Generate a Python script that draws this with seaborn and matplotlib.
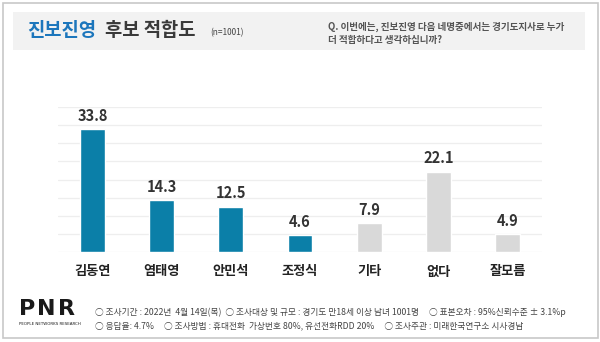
import matplotlib
matplotlib.use("Agg")
import matplotlib.pyplot as plt
import seaborn as sns
import pandas as pd
from matplotlib.patches import Rectangle

categories = ["김동연", "염태영", "안민석", "조정식", "기타", "없다", "잘모름"]
values = [33.8, 14.3, 12.5, 4.6, 7.9, 22.1, 4.9]
groups = ["candidate", "candidate", "candidate", "candidate", "other", "other", "other"]
value_labels = ["33.8", "14.3", "12.5", "4.6", "7.9", "22.1", "4.9"]

title_blue = "진보진영"
title_rest = "후보 적합도"
title_n = "(n=1001)"
question_lines = ["Q. 이번에는, 진보진영 다음 네명중에서는 경기도지사로 누가",
                  "더 적합하다고 생각하십니까?"]
footer_lines = ["○ 조사기간 : 2022년  4월 14일(목)  ○ 조사대상 및 규모 : 경기도 만18세 이상 남녀 1001명     ○ 표본오차 : 95%신뢰수준 ± 3.1%p",
                "○ 응답율: 4.7%     ○ 조사방법 : 휴대전화  가상번호 80%, 유선전화RDD 20%     ○ 조사주관 : 미래한국연구소 시사경남"]

BLUE = "#0B7FA8"
GREY = "#D9D9D9"

sns.set_theme(style="white")
plt.rcParams['font.family'] = ['Noto Sans CJK KR', 'DejaVu Sans']

df = pd.DataFrame({"cat": categories, "val": values, "grp": groups})

fig = plt.figure(figsize=(6, 3.42), dpi=100)
W, H = 600, 342

def fx(x):
    return x / W

def fy(y):
    return 1 - y / H

# outer frame
fig.patches.append(Rectangle((fx(3), fy(338)), fx(595) - fx(0), fy(3) - fy(338),
                             transform=fig.transFigure, fill=False,
                             edgecolor="#c8c8c8", linewidth=1.2, zorder=0))
# title band
fig.patches.append(Rectangle((fx(13), fy(50)), fx(572), fy(12) - fy(50),
                             transform=fig.transFigure, facecolor="#f2f2f2",
                             edgecolor="none", zorder=0))

ax = fig.add_axes([fx(58), fy(252), fx(542) - fx(58), fy(107) - fy(252)])
sns.barplot(data=df, x="cat", y="val", hue="grp",
            palette={"candidate": BLUE, "other": GREY},
            width=0.36, dodge=False, legend=False, ax=ax, saturation=1)

ax.set_ylim(0, 40)
ax.set_xlim(-0.5, 6.5)
ax.set_yticks(range(0, 41, 5))
ax.yaxis.grid(True, color="#eeeeee", linewidth=0.9)
ax.set_axisbelow(True)
ax.tick_params(axis="y", left=False, labelleft=False)
ax.tick_params(axis="x", bottom=False, pad=3)
for lbl in ax.get_xticklabels():
    lbl.set_fontsize(9.5)
    lbl.set_fontweight("bold")
    lbl.set_color("#222222")
ax.set_xlabel("")
ax.set_ylabel("")
for s in ax.spines.values():
    s.set_visible(False)
ax.patch.set_alpha(0)

for i, v in enumerate(values):
    ax.annotate(value_labels[i], (i, v), xytext=(0, 4), textcoords="offset points",
                ha="center", va="bottom", fontsize=10.5, fontweight="bold",
                color="#333333")

# title
fig.text(fx(27), fy(31), title_blue, fontsize=13.5, fontweight="bold",
         color="#1C76BC", va="center", ha="left")
fig.text(fx(105), fy(31), title_rest, fontsize=13.5, fontweight="bold",
         color="#3a3a3a", va="center", ha="left")
fig.text(fx(210), fy(33), title_n, fontsize=6, color="#444444",
         va="center", ha="left")

# question
fig.text(fx(328), fy(27), question_lines[0], fontsize=6.9, fontweight="bold",
         color="#555555", va="center", ha="left")
fig.text(fx(328), fy(40), question_lines[1], fontsize=6.9, fontweight="bold",
         color="#555555", va="center", ha="left")

# logo (letters spaced to match the wide logotype)
for ch, x in zip("PNR", [19, 37, 58]):
    fig.text(fx(x), fy(315), ch, fontsize=16, fontweight="black",
             color="#1a1a1a", va="baseline", ha="left", family=["DejaVu Sans"])
fig.text(fx(19), fy(322), "PEOPLE NETWORKS RESEARCH", fontsize=2.9,
         color="#1a1a1a", va="top", ha="left", family=["DejaVu Sans"])

# footer
fig.text(fx(95), fy(312), footer_lines[0], fontsize=6.25, color="#444444",
         va="center", ha="left")
fig.text(fx(95), fy(326), footer_lines[1], fontsize=6.25, color="#444444",
         va="center", ha="left")

fig.savefig("out.png", dpi=100)
